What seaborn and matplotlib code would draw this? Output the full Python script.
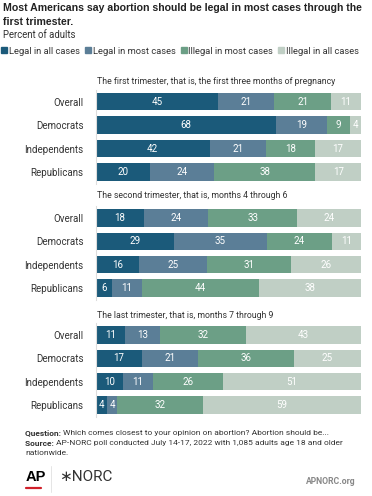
import matplotlib
matplotlib.use("Agg")
import matplotlib.pyplot as plt
import seaborn as sns
import pandas as pd
import numpy as np
from matplotlib.lines import Line2D

sns.set_theme(style="white")
plt.rcParams['font.family'] = ['Roboto', 'DejaVu Sans']

groups = ["Overall", "Democrats", "Independents", "Republicans"]
categories = ["Legal in all cases", "Legal in most cases", "Illegal in most cases", "Illegal in all cases"]
colors = ["#1b5a7a", "#5b7e97", "#6c9f86", "#c0cfc5"]
panel_titles = [
    "The first trimester, that is, the first three months of pregnancy",
    "The second trimester, that is, months 4 through 6",
    "The last trimester, that is, months 7 through 9",
]
first_tri = [[45, 21, 21, 11], [68, 19, 9, 4], [42, 21, 18, 17], [20, 24, 38, 17]]
second_tri = [[18, 24, 33, 24], [29, 35, 24, 11], [16, 25, 31, 26], [6, 11, 44, 38]]
last_tri = [[11, 13, 32, 43], [17, 21, 36, 25], [10, 11, 26, 51], [4, 4, 32, 59]]
panels = [first_tri, second_tri, last_tri]

W, H = 372, 496
fig = plt.figure(figsize=(W / 100, H / 100), dpi=100)
fig.patch.set_facecolor("white")
renderer = fig.canvas.get_renderer()

def fy(px):
    return 1 - px / H

def fx(px):
    return px / W

def width_px(artist):
    return artist.get_window_extent(renderer).width

def fit(t, target):
    for _ in range(3):
        w = width_px(t)
        t.set_fontsize(t.get_fontsize() * target / w)
    return t

txt = "#333333"
# Title
t1 = fig.text(fx(3), fy(8), "Most Americans say abortion should be legal in most cases through the",
              fontsize=8, fontweight="bold", color="#222222", va="center", ha="left",
              family=["Liberation Sans", "DejaVu Sans"])
fit(t1, 358)
fig.text(fx(3), fy(22), "first trimester.", fontsize=t1.get_fontsize(), fontweight="bold", color="#222222",
         va="center", ha="left", family=["Liberation Sans", "DejaVu Sans"])
fig.text(fx(3), fy(35), "Percent of adults", fontsize=6.9, color=txt, va="center", ha="left")

handles = [Line2D([0], [0], marker="s", color="none", markerfacecolor=c, markeredgecolor=c, markersize=4.5) for c in colors]
leg_fs = 6.9
for _ in range(3):
    leg = fig.legend(handles, categories, loc="center left", bbox_to_anchor=(fx(0), fy(51)), ncol=4, frameon=False,
                     handlelength=0.5, handletextpad=0.25, columnspacing=0.6, fontsize=leg_fs, labelcolor=txt,
                     borderaxespad=0, borderpad=0.2)
    w = leg.get_window_extent(renderer).width
    leg.remove()
    leg_fs = leg_fs * 362 / w
leg = fig.legend(handles, categories, loc="center left", bbox_to_anchor=(fx(0), fy(51)), ncol=4, frameon=False,
                 handlelength=0.5, handletextpad=0.25, columnspacing=0.6, fontsize=leg_fs, labelcolor=txt,
                 borderaxespad=0, borderpad=0.2)

panel_axes_px = [(90.0, 183.7), (206.3, 299.7), (323.3, 416.7)]
header_px = [82, 196, 315]
x0, x1 = 96, 361

head_fs = None
for pi, (vals, (top, bot)) in enumerate(zip(panels, panel_axes_px)):
    ax = fig.add_axes([fx(x0), fy(bot), fx(x1) - fx(x0), (bot - top) / H])
    df = pd.DataFrame(vals, columns=categories)
    df.insert(0, "group", groups)
    totals = df[categories].sum(axis=1)
    shares = df[categories].div(totals, axis=0) * 100
    cums = shares.cumsum(axis=1)
    for ci in range(len(categories) - 1, -1, -1):
        d = pd.DataFrame({"group": groups, "x": cums[categories[ci]].values})
        sns.barplot(data=d, x="x", y="group", order=groups, orient="h", color=colors[ci],
                    width=0.74, ax=ax, saturation=1, edgecolor="none", linewidth=0)
    for gi in range(len(groups)):
        for ci, cat in enumerate(categories):
            center = cums[cat].iloc[gi] - shares[cat].iloc[gi] / 2
            ax.text(center, gi, str(df[cat].iloc[gi]), ha="center", va="center",
                    color="white", fontsize=7)
    ax.set_xlim(0, 100)
    ax.set_ylim(3.5, -0.5)
    ax.set_xlabel("")
    ax.set_ylabel("")
    ax.set_xticks([])
    ax.tick_params(axis="y", length=0, pad=9, labelsize=7, labelcolor=txt)
    for s in ["top", "right", "bottom"]:
        ax.spines[s].set_visible(False)
    ax.spines["left"].set_color("#dddddd")
    ax.spines["left"].set_linewidth(0.8)
    ht = fig.text(fx(97), fy(header_px[pi]), panel_titles[pi], fontsize=6.9, color=txt, va="center", ha="left")
    if head_fs is None:
        fit(ht, 238)
        head_fs = ht.get_fontsize()
    else:
        ht.set_fontsize(head_fs)

# Footer
def run_line(x, y, parts, fs):
    cur = x
    arts = []
    for s, bold in parts:
        a = fig.text(fx(cur), fy(y), s, fontsize=fs, color=txt, va="center", ha="left",
                     fontweight="bold" if bold else "normal")
        cur += width_px(a)
        arts.append(a)
    return cur - x, arts

foot_fs = 6.2
for _ in range(3):
    w, arts = run_line(25, 433, [("Question: ", True), ("Which comes closest to your opinion on abortion? Abortion should be...", False)], foot_fs)
    for a in arts:
        a.remove()
    foot_fs *= 302 / w
run_line(25, 433, [("Question: ", True), ("Which comes closest to your opinion on abortion? Abortion should be...", False)], foot_fs)
run_line(25, 443, [("Source: ", True), ("AP-NORC poll conducted July 14-17, 2022 with 1,085 adults age 18 and older", False)], foot_fs)
run_line(25, 453, [("nationwide.", False)], foot_fs)

fig.text(fx(26), fy(477), "AP", fontsize=10.5, fontweight="bold", color="black", va="center", ha="left",
         family=["Liberation Sans", "DejaVu Sans"])
fig.add_artist(Line2D([fx(26), fx(41)], [fy(487.5), fy(487.5)], color="#d0202a", lw=1.6))
fig.add_artist(Line2D([fx(51), fx(51)], [fy(466), fy(492)], color="#e0e0e0", lw=0.6))
fig.text(fx(59), fy(477), "\u2217NORC", fontsize=11, color="#333333", va="center", ha="left")
fig.text(fx(356), fy(481), "APNORC.org", fontsize=6.2, color="#888888", va="center", ha="right", fontweight="bold")

fig.savefig("out.png", dpi=100, facecolor="white")
